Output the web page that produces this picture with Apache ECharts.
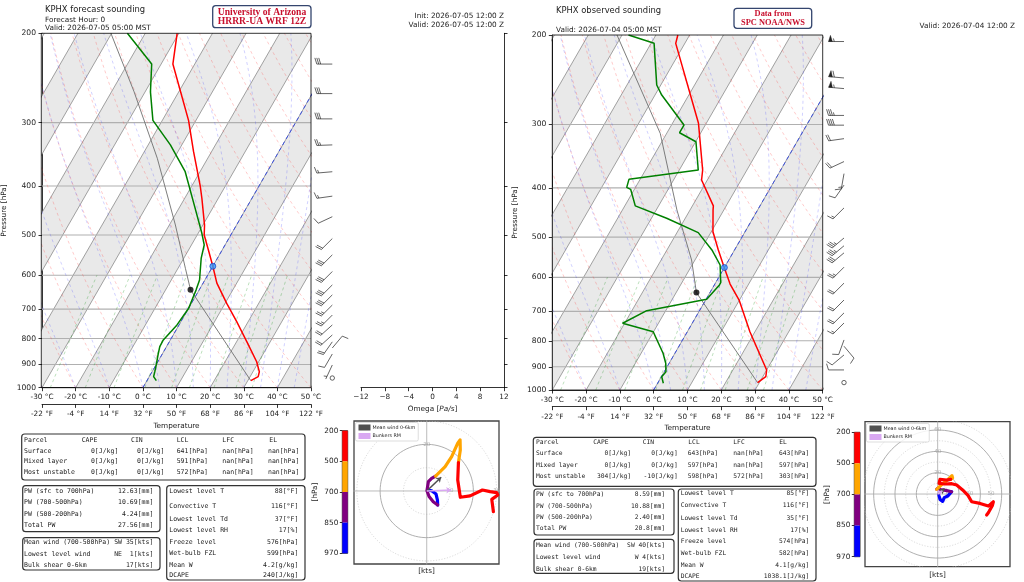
<!DOCTYPE html>
<html>
<head>
<meta charset="utf-8">
<title>KPHX soundings</title>
<script src="https://cdn.jsdelivr.net/npm/echarts@6/dist/echarts.min.js"></script>
<style>
  html, body { margin: 0; padding: 0; background: #fff; }
  #chart { width: 1024px; height: 582px; }
</style>
</head>
<body>
<div id="chart"></div>
<script>
const FONT = 'DejaVu Sans';
const MONO = 'DejaVu Sans Mono';

// pressure ticks [hPa]
const pressureTicks = [1000, 900, 800, 700, 600, 500, 400, 300, 200];

// skew-T reference lines
const isotherms = [-130, -120, -110, -100, -90, -80, -70, -60, -50, -40, -30, -20, -10, 0, 10, 20, 30, 40, 50];
const shadedBands = [-120, -100, -80, -60, -40, -20, 0, 20, 40];
const dryAdiabats = [-30, -20, -10, 0, 10, 20, 30, 40, 50, 60, 70, 80, 90, 100, 110, 120, 130, 140, 150];
const moistAdiabats = [-40, -30, -20, -10, 0, 5, 10, 15, 20, 25, 30, 35, 40, 45];
const mixingRatios = [0.0004, 0.001, 0.002, 0.004, 0.007, 0.01, 0.016, 0.024, 0.032];

// forecast sounding: [pressure hPa, temperature °C]
const fcstTemp = [[968.7, 30.9], [951, 32.4], [930, 31.9], [889, 29.4], [811, 23.0], [741, 16.6], [682, 10.5],
  [622, 4.1], [576, 0.0], [535, -4.1], [500, -7.9], [478, -9.5], [423, -14.9], [400, -17.5], [342, -25.4],
  [297, -32.2], [230, -46.5], [200, -50.5]];
const fcstDew = [[968.7, 2.8], [951, 1.3], [930, 0.8], [899, 0.0], [862, -1.1], [830, -2.0], [805, -2.1],
  [752, -0.6], [697, 0.0], [642, -0.9], [613, -1.6], [556, -4.8], [523, -6.2], [496, -8.9], [430, -16.8],
  [375, -24.4], [332, -33.4], [297, -42.8], [261, -48.4], [230, -52.8], [200, -65.3]];
const fcstParcel = [[968.7, 30.9], [641, -2.6], [581.5, -7.8], [477.6, -18.2], [352.8, -35.0], [260.8, -53.3], [200, -70.2]];
const fcstLcl = [641, -2.6];
const fcstFreeze = [576, 0];
// wind: [pressure hPa, direction deg, speed kt]
const fcstWind = [[230, 270, 30], [263, 270, 30], [295, 270, 30], [332, 268, 25], [375, 265, 15], [419, 262, 15],
  [460, 245, 10], [508, 225, 20], [547, 225, 30], [590, 225, 30], [627, 225, 30], [656, 225, 30], [687, 225, 25],
  [719, 225, 25], [752, 228, 20], [787, 228, 20], [812, 215, 20], [835, 40, 10], [858, 210, 10], [902, 205, 5],
  [957, 0, 0]];

// observed sounding
const obsTemp = [[967.4, 29.5], [941.5, 30.9], [913.3, 30.0], [767.7, 18.5], [665, 9.9], [618.5, 4.5], [574.4, 0.0],
  [530, -4.8], [488, -9.5], [442, -13.2], [434, -13.8], [386, -21.7], [368.8, -23.1], [298.5, -32.3],
  [207.7, -52.7], [200, -53.5]];
const obsDew = [[970, 1.7], [941.5, 0.1], [920.4, 0.5], [886, -1.0], [846.7, -3.5], [767.7, -10.1], [739, -20.6],
  [698, -15.6], [663, 0.2], [621, 1.5], [614.9, 1.5], [567.4, -1.7], [530, -6.7], [490, -13.7], [459, -25.5],
  [434, -36.9], [402.6, -41.1], [399, -42.6], [384.8, -43.3], [368.8, -24.4], [324.5, -29.9], [311.5, -36.3],
  [300.8, -36.3], [262.6, -48.0], [250.9, -51.2], [207.7, -59.1], [200, -68.1]];
const obsParcel = [[967.4, 29.5], [643, -4.0], [554.7, -11.0], [442, -23.9], [312.4, -41.9], [200, -71.5]];
const obsLcl = [643, -4.0];
const obsFreeze = [574, 0];
const obsWind = [[206, 270, 55], [243, 275, 60], [255, 275, 55], [288, 270, 35], [301, 270, 40], [320, 262, 20],
  [355, 245, 20], [375, 190, 15], [395, 215, 10], [438, 225, 15], [502, 230, 35], [520, 230, 35], [537, 230, 30],
  [573, 225, 25], [616, 225, 20], [665, 225, 20], [705, 225, 20], [738, 225, 15], [797, 200, 10], [820, 140, 10],
  [853, 230, 10], [913, 270, 10], [967, 0, 0]];

// hodographs [u, v] kt per layer
const hodoLayers = ['970-850', '850-700', '700-500', '500-200'];
const fcstHodo = [
  [[0.4, 0.4], [2.1, 0.1], [4.0, -1.3], [4.6, -3.9], [4.7, -6.0]],
  [[4.7, -6.0], [2.8, -4.6], [1.0, -2.4], [0.1, 0.1], [0.7, 4.0], [2.1, 5.4], [3.8, 6.4]],
  [[3.8, 6.4], [7.9, 10.4], [10.7, 14.7], [13.3, 20.5], [14.3, 21.9], [14.4, 17.6], [13.6, 12.2]],
  [[13.6, 12.2], [13.3, 4.7], [14.4, -2.7], [18.6, -2.1], [23.9, 0.4], [27.2, -0.3], [30.0, -0.7], [30.5, -1.7],
    [27.9, -3.6], [28.6, -8.9]]
];
const fcstMeanWind = [6.2, 5.9];
const fcstBunkers = [10.5, 0.4];
const fcstRings = [10, 20, 30];
const obsHodo = [
  [[1.2, -1.0], [2.2, -5.0], [4.7, -6.9], [6.2, -3.4], [9.4, -1.9], [13.1, 2.2]],
  [[13.1, 2.2], [7.5, 3.4], [2.5, 4.1], [0.6, 5.6], [-0.9, 4.4]],
  [[-0.9, 4.4], [4.0, 9.0], [9.5, 13.4], [13.4, 17.2], [14.0, 15.0], [12.2, 13.8]],
  [[12.2, 13.8], [8.4, 13.1], [2.2, 13.8], [1.3, 10.0], [6.9, 9.4], [13.1, 9.7], [17.8, 8.4], [23.4, 3.8],
    [28.4, -1.3], [31.9, -7.2], [39.7, -8.8], [47.5, -11.3], [52.2, -7.2], [51.2, -11.0], [47.5, -17.5], [45.9, -19.7]]
];
const obsMeanWind = [6.4, 5.0];
const obsBunkers = [4.5, 3.0];
const obsRings = [10, 20, 30, 40, 50, 60, 70];
const colorbarLevels = ['200', '500', '700', '850', '970'];

// tables
const parcelHead = ['Parcel', 'CAPE', 'CIN', 'LCL', 'LFC', 'EL'];
const fcstParcelRows = [
  ['Surface', '0[J/kg]', '0[J/kg]', '641[hPa]', 'nan[hPa]', 'nan[hPa]'],
  ['Mixed layer', '0[J/kg]', '0[J/kg]', '591[hPa]', 'nan[hPa]', 'nan[hPa]'],
  ['Most unstable', '0[J/kg]', '0[J/kg]', '572[hPa]', 'nan[hPa]', 'nan[hPa]']];
const fcstPwRows = [['PW (sfc to 700hPa)', '12.63[mm]'], ['PW (700-500hPa)', '10.69[mm]'],
  ['PW (500-200hPa)', '4.24[mm]'], ['Total PW', '27.56[mm]']];
const fcstWindRows = [['Mean wind (700-500hPa)', 'SW 35[kts]'], ['Lowest level wind', 'NE  1[kts]'],
  ['Bulk shear 0-6km', '17[kts]']];
const fcstMiscRows = [['Lowest level T', '88[°F]'], ['Convective T', '116[°F]'], ['Lowest level Td', '37[°F]'],
  ['Lowest level RH', '17[%]'], ['Freeze level', '576[hPa]'], ['Wet-bulb FZL', '599[hPa]'],
  ['Mean W', '4.2[g/kg]'], ['DCAPE', '240[J/kg]']];
const obsParcelRows = [
  ['Surface', '0[J/kg]', '0[J/kg]', '643[hPa]', 'nan[hPa]', '643[hPa]'],
  ['Mixed layer', '0[J/kg]', '0[J/kg]', '597[hPa]', 'nan[hPa]', '597[hPa]'],
  ['Most unstable', '304[J/kg]', '-10[J/kg]', '598[hPa]', '572[hPa]', '303[hPa]']];
const obsPwRows = [['PW (sfc to 700hPa)', '8.59[mm]'], ['PW (700-500hPa)', '10.88[mm]'],
  ['PW (500-200hPa)', '2.40[mm]'], ['Total PW', '20.8[mm]']];
const obsWindRows = [['Mean wind (700-500hPa)', 'SW 40[kts]'], ['Lowest level wind', 'W 4[kts]'],
  ['Bulk shear 0-6km', '19[kts]']];
const obsMiscRows = [['Lowest level T', '85[°F]'], ['Convective T', '116[°F]'], ['Lowest level Td', '35[°F]'],
  ['Lowest level RH', '17[%]'], ['Freeze level', '574[hPa]'], ['Wet-bulb FZL', '582[hPa]'],
  ['Mean W', '4.1[g/kg]'], ['DCAPE', '1038.1[J/kg]']];

// ---- layout ----
const layout = {
  fcstSkew: {left: 41.3, top: 33.3, width: 269.7, height: 354.4},
  fcstBarb: {left: 312.3, top: 33.3, width: 40, height: 354.4},
  omega: {left: 361, top: 33.3, width: 143, height: 354.4},
  fcstBar: {left: 342.3, top: 430.7, width: 5.4, height: 122.6},
  fcstHodo: {left: 354, top: 421, width: 145, height: 143},
  obsSkew: {left: 552.3, top: 35, width: 270.4, height: 355},
  obsBarb: {left: 824, top: 35, width: 40, height: 355},
  obsBar: {left: 854.3, top: 432.3, width: 5.7, height: 124.4},
  obsHodo: {left: 865, top: 421.7, width: 145, height: 145}
};
const gridOrder = ['fcstSkew', 'fcstBarb', 'omega', 'fcstBar', 'fcstHodo', 'obsSkew', 'obsBarb', 'obsBar', 'obsHodo'];

const logP = p => Math.log10(p);
const pTickVals = pressureTicks.map(logP);
function skewK(g) {
  return (g.height / Math.log(5)) * Math.tan(Math.PI / 6) / (g.width / 80);
}

function moistLine(t0) {
  const Rd = 287.04749, Cp = 1004.6662, Lv = 2.50084e6, eps = 0.6219569;
  const f = (T, p) => {
    const es = 6.112 * Math.exp(17.67 * (T - 273.15) / (T - 29.65));
    const rs = eps * es / (p - es);
    return (Rd * T + Lv * rs) / (Cp + Lv * Lv * rs * eps / (Rd * T * T)) / p;
  };
  let T = t0 + 273.15;
  const out = [[1000, t0]];
  for (let p = 1000; p > 200; p -= 10) {
    const h = -10;
    const k1 = f(T, p), k2 = f(T + h * k1 / 2, p + h / 2), k3 = f(T + h * k2 / 2, p + h / 2), k4 = f(T + h * k3, p + h);
    T += h * (k1 + 2 * k2 + 2 * k3 + k4) / 6;
    out.push([p + h, T - 273.15]);
  }
  return out;
}
function dryLine(theta) {
  const out = [];
  for (let p = 1000; p >= 200; p -= 10) out.push([p, (theta + 273.15) * Math.pow(p / 1000, 0.28571) - 273.15]);
  return out;
}
function mixingLine(w) {
  const out = [];
  for (let p = 1000; p >= 600; p -= 10) {
    const l = Math.log(p * w / (0.6219569 + w) / 6.112);
    out.push([p, 243.5 * l / (17.67 - l)]);
  }
  return out;
}

function clipPoly(pts, r) {
  const planes = [[0, r.x, 1], [0, r.x + r.width, -1], [1, r.y, 1], [1, r.y + r.height, -1]];
  let poly = pts;
  for (const [k, v, s] of planes) {
    const res = [];
    for (let i = 0; i < poly.length; i++) {
      const a = poly[i], b = poly[(i + 1) % poly.length];
      const ina = (a[k] - v) * s >= 0, inb = (b[k] - v) * s >= 0;
      if (ina) res.push(a);
      if (ina !== inb) {
        const t = (v - a[k]) / (b[k] - a[k]);
        res.push([a[0] + t * (b[0] - a[0]), a[1] + t * (b[1] - a[1])]);
      }
    }
    poly = res;
    if (!poly.length) break;
  }
  return poly;
}

function skewSeries(xi, yi, K, snd) {
  const pt = (T, p) => [T + K * Math.log(1000 / p), logP(p)];
  const line = (data, style, z) => ({
    type: 'line', xAxisIndex: xi, yAxisIndex: yi, data: data, showSymbol: false, silent: true,
    clip: true, z: z || 2, lineStyle: style, animation: false
  });
  const out = [];
  out.push({
    type: 'custom', xAxisIndex: xi, yAxisIndex: yi, silent: true, z: 1, animation: false,
    data: shadedBands.map(t => [t, 3]),
    renderItem: (params, api) => {
      const t = api.value(0);
      const pts = [pt(t, 1000), pt(t + 10, 1000), pt(t + 10, 200), pt(t, 200)].map(c => api.coord(c));
      return {type: 'polygon', shape: {points: clipPoly(pts, params.coordSys)}, style: {fill: '#e9e9e9'}};
    }
  });
  isotherms.forEach(t => out.push(line([pt(t, 1000), pt(t, 200)], {color: '#8a8a8a', width: 0.8})));
  pressureTicks.slice(1, -1).forEach(p => out.push(line([[-30, logP(p)], [50, logP(p)]], {color: '#b0b0b0', width: 1.1})));
  dryAdiabats.forEach(t => out.push(line(dryLine(t).map(d => pt(d[1], d[0])),
    {color: 'rgba(255,60,60,0.45)', width: 0.6, type: [3, 3]})));
  moistAdiabats.forEach(t => out.push(line(moistLine(t).map(d => pt(d[1], d[0])),
    {color: 'rgba(60,60,255,0.4)', width: 0.6, type: [3, 3]})));
  mixingRatios.forEach(w => out.push(line(mixingLine(w).map(d => pt(d[1], d[0])),
    {color: 'rgba(0,140,0,0.45)', width: 0.6, type: [3, 3]})));
  out.push(line([pt(0, 1000), pt(0, 200)], {color: '#3a4fe0', width: 1, type: [4, 3]}, 3));
  out.push(line(snd.parcel.map(d => pt(d[1], d[0])), {color: '#6e6e6e', width: 0.9}, 4));
  out.push(line(snd.temp.map(d => pt(d[1], d[0])), {color: '#ff0000', width: 1.5}, 5));
  out.push(line(snd.dew.map(d => pt(d[1], d[0])), {color: '#008000', width: 1.5}, 5));
  out.push({type: 'scatter', xAxisIndex: xi, yAxisIndex: yi, silent: true, z: 6, symbolSize: 6, animation: false,
    data: [pt(snd.lcl[1], snd.lcl[0])], itemStyle: {color: '#000'}});
  out.push({type: 'scatter', xAxisIndex: xi, yAxisIndex: yi, silent: true, z: 6, symbolSize: 6, animation: false,
    data: [pt(snd.freeze[1], snd.freeze[0])], itemStyle: {color: '#2f9bff', borderColor: '#1030c0', borderWidth: 0.8}});
  return out;
}

function barbRender(params, api) {
  const p = api.value(0), dir = api.value(1), spd = api.value(2);
  const b = api.coord([20, logP(p)]);
  const col = '#222';
  if (spd < 2.5) {
    return {type: 'circle', shape: {cx: b[0], cy: b[1], r: 2.2}, style: {fill: 'none', stroke: col, lineWidth: 0.7}};
  }
  const L = 15.5, H = 0.4 * L, W = 0.25 * L, S = 0.125 * L;
  const a = dir * Math.PI / 180;
  const d = [Math.sin(a), -Math.cos(a)];
  const n = [-d[1], d[0]];
  const at = (s, h) => [b[0] + d[0] * s + n[0] * h, b[1] + d[1] * s + n[1] * h];
  const seg = (p0, p1) => ({type: 'line', shape: {x1: p0[0], y1: p0[1], x2: p1[0], y2: p1[1]},
    style: {stroke: col, lineWidth: 0.7}});
  let r = Math.round(spd / 5) * 5;
  const flags = Math.floor(r / 50); r -= flags * 50;
  const full = Math.floor(r / 10); r -= full * 10;
  const half = r >= 5;
  const ch = [seg(b, at(L, 0))];
  let off = L;
  for (let i = 0; i < flags; i++) {
    if (off !== L) off += S / 2;
    ch.push({type: 'polygon', shape: {points: [at(off, 0), at(off - W / 2, H), at(off - W, 0)]},
      style: {fill: col, stroke: col, lineWidth: 0.4}});
    off -= W + S;
  }
  for (let i = 0; i < full; i++) {
    ch.push(seg(at(off, 0), at(off + W / 2, H)));
    off -= S;
  }
  if (half) {
    if (off === L) off -= 1.5 * S;
    ch.push(seg(at(off, 0), at(off + W / 4, H / 2)));
  }
  return {type: 'group', children: ch};
}

function hodoSeries(xi, yi, layers, rings, meanWind, bunkers) {
  const out = [];
  const far = rings[rings.length - 1] * 2;
  rings.forEach(r => {
    const pts = [];
    for (let k = 0; k <= 90; k++) pts.push([r * Math.cos(k * Math.PI / 45), r * Math.sin(k * Math.PI / 45)]);
    const solid = r % 20 === 0;
    out.push({type: 'line', xAxisIndex: xi, yAxisIndex: yi, data: pts, showSymbol: false, silent: true, z: 1,
      animation: false, lineStyle: solid ? {color: '#9a9a9a', width: 0.8} : {color: '#c4c4c4', width: 0.6, type: [1.2, 1.6]}});
  });
  out.push({type: 'line', xAxisIndex: xi, yAxisIndex: yi, data: [[-far, 0], [far, 0]], showSymbol: false, silent: true,
    z: 1, animation: false, lineStyle: {color: '#aaa', width: 0.8}});
  out.push({type: 'line', xAxisIndex: xi, yAxisIndex: yi, data: [[0, -far], [0, far]], showSymbol: false, silent: true,
    z: 1, animation: false, lineStyle: {color: '#aaa', width: 0.8}});
  out.push({type: 'scatter', xAxisIndex: xi, yAxisIndex: yi, silent: true, z: 2, symbolSize: 0, animation: false,
    data: rings.map(r => (r % 20 === 0 ? [0, r, r] : [r, 0, r])),
    label: {show: true, position: 'inside', formatter: q => String(q.value[2]), color: '#a0a0a0', fontSize: 5.5,
      fontFamily: FONT}});
  const cols = ['#0000ff', '#800080', '#ffa500', '#ff0000'];
  layers.forEach((seg, i) => out.push({type: 'line', name: hodoLayers[i], xAxisIndex: xi, yAxisIndex: yi, data: seg,
    showSymbol: false, silent: true, z: 3, animation: false, lineStyle: {color: cols[i], width: 3.2, cap: 'round', join: 'round'}}));
  out.push({type: 'lines', name: 'Mean wind 0-6km', coordinateSystem: 'cartesian2d', xAxisIndex: xi, yAxisIndex: yi,
    z: 4, silent: true, animation: false, symbol: ['none', 'arrow'], symbolSize: 5, color: '#505050',
    lineStyle: {color: '#505050', width: 1.6, opacity: 1}, data: [{coords: [[0, 0], meanWind]}]});
  out.push({type: 'lines', name: 'Bunkers RM', coordinateSystem: 'cartesian2d', xAxisIndex: xi, yAxisIndex: yi,
    z: 4, silent: true, animation: false, symbol: ['none', 'arrow'], symbolSize: 5, color: '#d9a8f2',
    lineStyle: {color: '#d9a8f2', width: 1.6, opacity: 1}, data: [{coords: [[0, 0], bunkers]}]});
  return out;
}

function colorbarSeries(xi, yi) {
  const cols = ['#ff0000', '#ffa500', '#800080', '#0000ff'];
  return [{type: 'custom', xAxisIndex: xi, yAxisIndex: yi, silent: true, animation: false,
    data: hodoLayers.map((l, i) => [0, i]),
    renderItem: (params, api) => {
      const i = params.dataIndex;
      const a = api.coord([0, i]), b = api.coord([1, i + 1]);
      return {type: 'rect', shape: {x: Math.min(a[0], b[0]), y: Math.min(a[1], b[1]),
        width: Math.abs(b[0] - a[0]), height: Math.abs(b[1] - a[1])}, style: {fill: cols[i]}};
    }}];
}

// ---- axes ----
const axLine = {onZero: false, lineStyle: {color: '#000', width: 0.8}};
const axTick = {length: 3.5, lineStyle: {color: '#000', width: 0.8}};
const lab = (size) => ({fontSize: size, color: '#222', fontFamily: FONT});
const hidden = {show: false};

function skewX(gi, m) {
  return [{
    gridIndex: gi, type: 'value', min: -30, max: 50, interval: 10, axisLine: axLine, axisTick: axTick,
    axisLabel: Object.assign(lab(7.3), {formatter: v => v + ' °C', margin: m}), splitLine: hidden
  }, {
    gridIndex: gi, type: 'value', min: -30, max: 50, interval: 10, position: 'bottom', offset: 16.7,
    axisLine: axLine, axisTick: axTick,
    axisLabel: Object.assign(lab(7.3), {formatter: v => Math.round(v * 9 / 5 + 32) + ' °F', margin: m}),
    splitLine: hidden, name: 'Temperature', nameLocation: 'middle', nameGap: 17, nameTextStyle: lab(7.3)
  }];
}
function skewY(gi) {
  return {
    gridIndex: gi, type: 'value', min: logP(200), max: 3, inverse: true, axisLine: axLine,
    axisTick: Object.assign({customValues: pTickVals}, axTick),
    axisLabel: Object.assign(lab(7.6), {customValues: pTickVals, formatter: v => String(Math.round(Math.pow(10, v))), margin: 6}),
    splitLine: hidden, name: 'Pressure [hPa]', nameLocation: 'middle', nameGap: 34, nameRotate: 90, nameTextStyle: lab(7.3)
  };
}
const hiddenPY = gi => ({gridIndex: gi, type: 'value', min: logP(200), max: 3, inverse: true, show: false});
const hiddenX = (gi, min, max) => ({gridIndex: gi, type: 'value', min: min, max: max, show: false});
const barY = gi => ({gridIndex: gi, type: 'value', min: 0, max: 4, interval: 1, inverse: true,
  axisLine: {show: false, onZero: false}, axisTick: {length: 2.5, lineStyle: {color: '#000', width: 0.8}},
  axisLabel: Object.assign(lab(7.3), {formatter: v => colorbarLevels[v], margin: 4}), splitLine: hidden,
  name: '[hPa]', nameLocation: 'middle', nameGap: 24, nameRotate: 90, nameTextStyle: lab(7.3)});
const hodoX = (gi, min, max, gap) => ({gridIndex: gi, type: 'value', min: min, max: max, axisLine: hidden,
  axisTick: hidden, axisLabel: hidden, splitLine: hidden, name: '[kts]', nameLocation: 'middle', nameGap: gap,
  nameTextStyle: lab(7.3)});

const xAxes = [
  ...skewX(0, 6),
  hiddenX(1, 0, 40),
  {gridIndex: 2, type: 'value', min: -12, max: 12, interval: 4, axisLine: axLine, axisTick: axTick,
    axisLabel: Object.assign(lab(7.3), {formatter: v => (v < 0 ? '\u2212' + (-v) : String(v)), margin: 6}),
    splitLine: hidden, name: 'Omega [{i|Pa/s}]', nameLocation: 'middle', nameGap: 16,
    nameTextStyle: Object.assign(lab(7.3), {rich: {i: {fontStyle: 'italic', fontSize: 7.3, fontFamily: FONT, color: '#222'}}})},
  hiddenX(3, 0, 1),
  hodoX(4, -31.2, 31.0, 3.5),
  ...skewX(5, 6.5),
  hiddenX(6, 0, 40),
  hiddenX(7, 0, 1),
  hodoX(8, -68.1, 67.8, 4.5)
];
// xAxis indexes: 0,1 fcst skew; 2 fcst barb; 3 omega; 4 fcst bar; 5 fcst hodo; 6,7 obs skew; 8 obs barb; 9 obs bar; 10 obs hodo
const yAxes = [
  skewY(0),
  hiddenPY(1),
  {gridIndex: 2, type: 'value', min: logP(200), max: 3, inverse: true, position: 'right', axisLine: axLine,
    axisTick: Object.assign({customValues: pTickVals}, axTick), axisLabel: hidden, splitLine: hidden},
  barY(3),
  {gridIndex: 4, type: 'value', min: -31.3, max: 30.0, show: false},
  skewY(5),
  hiddenPY(6),
  barY(7),
  {gridIndex: 8, type: 'value', min: -68.1, max: 67.8, show: false}
];

const grids = gridOrder.map(k => {
  const g = layout[k];
  const o = {left: g.left, top: g.top, width: g.width, height: g.height, containLabel: false};
  if (k === 'fcstBar' || k === 'obsBar') Object.assign(o, {show: true, borderColor: '#000', borderWidth: 0.8});
  if (k === 'fcstHodo' || k === 'obsHodo') Object.assign(o, {show: true, borderColor: '#444', borderWidth: 1.3});
  return o;
});

const series = [
  ...skewSeries(0, 0, skewK(layout.fcstSkew), {temp: fcstTemp, dew: fcstDew, parcel: fcstParcel, lcl: fcstLcl, freeze: fcstFreeze}),
  {type: 'custom', xAxisIndex: 2, yAxisIndex: 1, silent: true, animation: false, clip: false, data: fcstWind, renderItem: barbRender},
  ...colorbarSeries(4, 3),
  ...hodoSeries(5, 4, fcstHodo, fcstRings, fcstMeanWind, fcstBunkers),
  ...skewSeries(6, 5, skewK(layout.obsSkew), {temp: obsTemp, dew: obsDew, parcel: obsParcel, lcl: obsLcl, freeze: obsFreeze}),
  {type: 'custom', xAxisIndex: 8, yAxisIndex: 6, silent: true, animation: false, clip: false, data: obsWind, renderItem: barbRender},
  ...colorbarSeries(9, 7),
  ...hodoSeries(10, 8, obsHodo, obsRings, obsMeanWind, obsBunkers)
];

// ---- text and boxes ----
const gfx = [];
function text(x, y, s, o) {
  const st = Object.assign({text: s, fill: '#222', font: '7.3px "' + FONT + '"'}, o || {});
  const al = st.textAlign || 'left';
  st.textAlign = al; st.align = al;
  st.textVerticalAlign = 'middle'; st.verticalAlign = 'middle';
  gfx.push({type: 'text', x: x, y: y, silent: true, z: 50, style: st});
}
function box(b, o) {
  gfx.push({type: 'rect', silent: true, z: 40, shape: {x: b[0], y: b[1], width: b[2], height: b[3], r: 3},
    style: Object.assign({fill: '#fff', stroke: '#333', lineWidth: 1.2}, o || {})});
}
function frame(g) {
  gfx.push({type: 'rect', silent: true, z: 45, shape: {x: g.left, y: g.top, width: g.width, height: g.height},
    style: {fill: 'none', stroke: '#000', lineWidth: 0.8}});
}
frame(layout.fcstSkew);
frame(layout.obsSkew);

function tables(t, rows) {
  const f = t.size + 'px "' + MONO + '"';
  box(t.parcelBox);
  parcelHead.forEach((h, i) => text(t.headX[i], t.parcelY[0], h, {font: f}));
  rows.parcel.forEach((r, j) => {
    text(t.labelX, t.parcelY[j + 1], r[0], {font: f});
    for (let i = 1; i < 6; i++) text(t.valX[i - 1], t.parcelY[j + 1], r[i], {font: f, textAlign: t.valAlign[i - 1]});
  });
  box(t.pwBox);
  rows.pw.forEach((r, j) => {
    text(t.labelX, t.pwY[j], r[0], {font: f});
    text(t.pwValX, t.pwY[j], r[1], {font: f, textAlign: 'right'});
  });
  box(t.windBox);
  rows.wind.forEach((r, j) => {
    text(t.labelX, t.windY[j], r[0], {font: f});
    text(t.pwValX, t.windY[j], r[1], {font: f, textAlign: 'right'});
  });
  box(t.miscBox);
  rows.misc.forEach((r, j) => {
    text(t.miscLabelX, t.miscY[j], r[0], {font: f});
    text(t.miscValX, t.miscY[j], r[1], {font: f, textAlign: 'right'});
  });
}
tables({
  size: 6.5, labelX: 24,
  parcelBox: [21.7, 434, 283.3, 46], parcelY: [440.7, 451, 461.7, 472.7],
  headX: [24, 81.7, 131, 176.7, 222.3, 269.3], valX: [118.3, 164.3, 176.7, 222.3, 299.3],
  valAlign: ['right', 'right', 'left', 'left', 'right'],
  pwBox: [22.7, 485.7, 137.3, 46], pwY: [491, 502.7, 514.3, 525.7], pwValX: 153.3,
  windBox: [22.7, 537.7, 137.3, 32.3], windY: [542.3, 554.3, 565.7],
  miscBox: [166.7, 485.7, 138.3, 94.3], miscY: [491.7, 506, 519, 530.7, 542.3, 553.3, 565, 575.7],
  miscLabelX: 169.3, miscValX: 298.3
}, {parcel: fcstParcelRows, pw: fcstPwRows, wind: fcstWindRows, misc: fcstMiscRows});
tables({
  size: 6.3, labelX: 536,
  parcelBox: [533.3, 437.3, 282.7, 49], parcelY: [442.3, 453.8, 465.3, 476.8],
  headX: [536, 593.3, 642.7, 688.3, 733.3, 779.3], valX: [631, 677.7, 687.7, 733.3, 809.3],
  valAlign: ['right', 'right', 'left', 'left', 'right'],
  pwBox: [534, 489, 140, 46], pwY: [494.3, 506, 517, 528.7], pwValX: 665,
  windBox: [534, 539.3, 140, 34], windY: [545.7, 557.7, 569.3],
  miscBox: [678.3, 489, 137.7, 92], miscY: [493.3, 505.7, 518.3, 530, 541.7, 553.3, 565, 576.7],
  miscLabelX: 680.7, miscValX: 809.3
}, {parcel: obsParcelRows, pw: obsPwRows, wind: obsWindRows, misc: obsMiscRows});

// headers
text(45, 10, 'KPHX forecast sounding', {font: '8.4px "' + FONT + '"'});
text(45, 20, 'Forecast Hour: 0');
text(45, 28.3, 'Valid: 2026-07-05 05:00 MST');
text(504, 16, 'Init: 2026-07-05 12:00 Z', {textAlign: 'right'});
text(504, 24.7, 'Valid: 2026-07-05 12:00 Z', {textAlign: 'right'});
box([212.7, 5.7, 98.3, 22], {stroke: '#34456e', lineWidth: 1.3});
text(262, 12.2, 'University of Arizona', {textAlign: 'center', fill: '#c8102e', font: 'bold 9.6px "Liberation Serif"'});
text(262, 21.6, 'HRRR-UA WRF 12Z', {textAlign: 'center', fill: '#c8102e', font: 'bold 9.6px "Liberation Serif"'});

text(556, 11, 'KPHX observed sounding', {font: '8.4px "' + FONT + '"'});
text(556, 29.7, 'Valid: 2026-07-04 05:00 MST');
text(1015, 26, 'Valid: 2026-07-04 12:00 Z', {textAlign: 'right'});
box([734, 8.3, 77.7, 20], {stroke: '#34456e', lineWidth: 1.3});
text(773, 13.5, 'Data from', {textAlign: 'center', fill: '#c8102e', font: 'bold 8.4px "Liberation Serif"'});
text(773, 22.8, 'SPC NOAA/NWS', {textAlign: 'center', fill: '#c8102e', font: 'bold 8.4px "Liberation Serif"'});

const legendBase = {
  orient: 'vertical', selectedMode: false, icon: 'rect', itemWidth: 10, itemHeight: 4, itemGap: 2.5,
  padding: [2, 3], borderColor: '#c8c8c8', borderWidth: 0.6, borderRadius: 1.5, backgroundColor: 'rgba(255,255,255,0.85)',
  textStyle: {fontSize: 4.8, color: '#222', fontFamily: FONT, padding: [0, 0, 0, -2]},
  data: ['Mean wind 0-6km', 'Bunkers RM']
};

const chart = echarts.init(document.getElementById('chart'), null, {renderer: 'canvas'});
chart.setOption({
  animation: false,
  backgroundColor: '#fff',
  grid: grids,
  xAxis: xAxes,
  yAxis: yAxes,
  legend: [Object.assign({left: 355.5, top: 422.5}, legendBase), Object.assign({left: 866.5, top: 423.5}, legendBase)],
  series: series,
  graphic: {elements: gfx}
});
</script>
</body>
</html>
